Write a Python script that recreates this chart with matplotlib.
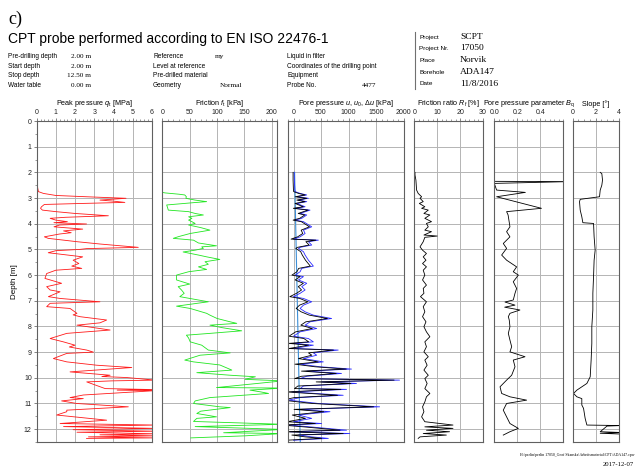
import numpy as np
import matplotlib
matplotlib.use('Agg')
import matplotlib.pyplot as plt
from matplotlib.ticker import MultipleLocator

plt.rcParams['font.family'] = ['Liberation Sans', 'DejaVu Sans']
plt.rcParams['mathtext.fontset'] = 'custom'
plt.rcParams['mathtext.rm'] = 'Liberation Sans'
plt.rcParams['mathtext.it'] = 'Liberation Sans:italic'

# peak pressure q_t [MPa]
qc_depth = [2.00, 2.30, 2.60, 2.75, 2.82, 2.90, 2.95, 3.01, 3.08, 3.12, 3.17, 3.21, 3.25, 3.34, 3.40, 3.47,
            3.53, 3.60, 3.69, 3.75, 3.79, 3.86, 3.92, 3.96, 4.01, 4.05, 4.12, 4.21, 4.28, 4.35, 4.40, 4.51,
            4.57, 4.70, 4.79, 4.92, 4.97, 5.00, 5.05, 5.13, 5.29, 5.42, 5.55, 5.65, 5.74, 5.81, 5.94, 6.13,
            6.32, 6.45, 6.58, 6.65, 6.84, 6.91, 7.04, 7.10, 7.23, 7.30, 7.49, 7.55, 7.62, 7.75, 7.86, 7.95,
            8.14, 8.21, 8.27, 8.47, 8.60, 8.73, 8.80, 8.92, 9.00, 9.05, 9.25, 9.38, 9.51, 9.60, 9.77, 9.90,
            9.95, 9.99, 10.09, 10.12, 10.16, 10.42, 10.46, 10.48, 10.50, 10.67, 10.77, 10.81, 10.90, 11.00,
            11.13, 11.26, 11.32, 11.45, 11.65, 11.78, 11.84, 11.90, 11.97, 12.02, 12.08, 12.12, 12.18, 12.22,
            12.26, 12.30, 12.34, 12.36]
qc_value = [0.00, 0.02, 0.05, 0.09, 0.35, 1.00, 2.60, 4.66, 3.30, 4.00, 4.60, 2.40, 0.40, 0.25, 0.20, 0.30,
            1.00, 2.00, 3.74, 1.50, 0.70, 1.00, 1.60, 0.90, 2.60, 1.20, 0.90, 2.40, 1.40, 1.80, 1.20, 0.40,
            0.60, 2.10, 3.30, 5.30, 2.60, 2.25, 1.00, 0.60, 2.40, 1.90, 2.20, 1.83, 2.35, 1.00, 0.52, 0.43,
            1.30, 0.52, 0.70, 1.22, 0.61, 1.22, 3.30, 0.70, 0.52, 1.74, 2.10, 1.90, 2.26, 3.65, 3.30, 2.10,
            3.83, 2.60, 1.57, 0.70, 1.39, 2.00, 1.70, 2.61, 2.96, 1.57, 0.87, 1.57, 3.13, 4.96, 1.74, 3.83,
            3.40, 4.70, 6.20, 3.90, 2.61, 3.57, 6.20, 4.20, 6.20, 2.43, 1.74, 2.43, 1.30, 2.09,
            4.78, 1.57, 1.57, 1.04, 3.65, 1.22, 6.20, 1.40, 6.20, 1.90, 6.20, 2.10, 6.20, 3.30,
            6.20, 2.70, 6.20, 2.60]

# friction f_t [kPa]
fs_depth = [2.00, 2.78, 2.80, 2.85, 2.88, 2.95, 3.01, 3.08, 3.14, 3.18, 3.27, 3.40, 3.47, 3.53, 3.60, 3.66,
            3.73, 3.79, 3.86, 3.92, 3.99, 4.05, 4.15, 4.25, 4.38, 4.50, 4.57, 4.64, 4.75, 4.86, 4.90, 4.96,
            5.03, 5.10, 5.22, 5.29, 5.39, 5.48, 5.58, 5.68, 5.78, 5.87, 6.00, 6.19, 6.35, 6.45, 6.58, 6.71,
            6.84, 7.04, 7.21, 7.30, 7.49, 7.56, 7.69, 7.82, 7.88, 7.95, 8.05, 8.17, 8.27, 8.34, 8.45, 8.60,
            8.73, 8.92, 9.03, 9.12, 9.31, 9.38, 9.50, 9.70, 9.80, 9.90, 9.96, 10.06, 10.12, 10.38, 10.40,
            10.48, 10.55, 10.61, 10.77, 10.90, 11.00, 11.13, 11.16, 11.30, 11.39, 11.52, 11.58, 11.70, 11.81,
            11.90, 12.01, 12.14, 12.17, 12.26, 12.34]
fs_value = [0, 0, 5, 30, 41, 44, 43, 60, 81, 57, 8, 10, 11, 48, 60, 75,
            48, 54, 48, 54, 60, 48, 70, 87, 51, 30, 20, 57, 66, 99, 72, 75,
            60, 38, 66, 81, 105, 78, 84, 66, 81, 48, 26, 26, 50, 29, 35, 40,
            32, 84, 26, 51, 81, 87, 100, 124, 136, 87, 110, 145, 87, 44, 48, 51,
            72, 84, 124, 69, 41, 57, 105, 127, 63, 124, 170, 151, 220, 99, 220,
            160, 180, 194, 87, 60, 57, 105, 124, 70, 63, 99, 63, 57, 220,
            60, 220, 112, 220, 151, 52]

# pore pressure u [kPa]
u_depth = [2.00, 2.30, 2.69, 2.75, 2.82, 2.88, 2.95, 3.01, 3.08, 3.14, 3.21, 3.34, 3.40, 3.47, 3.60, 3.66,
           3.79, 3.86, 3.92, 4.12, 4.25, 4.38, 4.51, 4.60, 4.64, 4.70, 4.83, 4.92, 4.96, 5.09, 5.22, 5.42,
           5.65, 5.74, 5.87, 6.00, 6.06, 6.19, 6.32, 6.45, 6.58, 6.71, 6.84, 6.91, 7.04, 7.17, 7.30, 7.43,
           7.56, 7.69, 7.82, 7.95, 8.08, 8.21, 8.38, 8.47, 8.60, 8.66, 8.73, 8.86, 8.92, 9.03, 9.12, 9.25,
           9.38, 9.47, 9.57, 9.66, 9.74, 9.83, 9.94, 10.03, 10.09, 10.16, 10.22, 10.32, 10.42, 10.45, 10.55,
           10.68, 10.77, 10.87, 11.00, 11.13, 11.23, 11.32, 11.45, 11.58, 11.71, 11.78, 11.84, 11.91, 12.04,
           12.10, 12.17, 12.23, 12.30, 12.36, 12.43]
u_value = [12, 15, 25, 30, 120, 241, 60, 271, 90, 241, 60, 211, 30, 301, 120, 241,
           150, 30, 181, 331, 181, 211, 120, 0, 452, 271, 331, 120, 90, 181, 211, 271,
           361, 150, 120, 30, 181, 90, 241, 150, 211, 120, 0, 181, 331, 181, 120, 211,
           361, 693, 301, 211, 422, 120, 0, 271, 361, 0, 361, 0, 813, 361, 422, 181,
           542, 120, 482, 1054, 241, 873, 241, 120, 1928, 512, 1145, 181, 120, 964, -30,
           904, 120, -90, 452, 1566, 120, 663, 90, 331, 0, 512, -90, 301, 964,
           -60, 1024, 90, 331, 633, 0]

# friction ratio R_f [%]
rf_depth = [2.00, 2.10, 2.30, 2.69, 2.82, 2.95, 3.01, 3.14, 3.21, 3.34, 3.40, 3.47, 3.60, 3.66, 3.79, 3.92,
            3.99, 4.12, 4.25, 4.31, 4.44, 4.48, 4.53, 4.70, 4.90, 5.03, 5.16, 5.29, 5.42, 5.55, 5.68, 5.81,
            6.00, 6.19, 6.39, 6.52, 6.71, 6.84, 7.04, 7.23, 7.43, 7.62, 7.82, 8.01, 8.21, 8.40, 8.60, 8.79,
            8.99, 9.18, 9.31, 9.51, 9.70, 9.90, 10.03, 10.22, 10.42, 10.61, 10.74, 10.94, 11.13, 11.32, 11.52,
            11.71, 11.84, 11.91, 11.97, 12.04, 12.10, 12.17, 12.23, 12.30, 12.36]
rf_value = [0.3, 0.3, 0.7, 1.0, 1.7, 3.2, 2.5, 3.9, 2.2, 4.6, 3.2, 6.1, 4.2, 6.8, 4.6, 7.5,
            5.3, 6.1, 4.6, 7.5, 4.2, 10.0, 4.6, 3.9, 2.5, 3.6, 5.3, 3.9, 5.1, 3.6, 5.3, 3.9,
            4.6, 3.6, 5.3, 3.9, 4.2, 2.7, 5.3, 3.9, 4.6, 3.6, 5.1, 4.2, 5.3, 6.8, 4.6, 5.3,
            4.2, 6.1, 4.6, 5.6, 4.2, 6.1, 4.6, 5.6, 4.6, 6.8, 5.3, 4.6, 3.6, 4.2, 3.2,
            4.6, 16.9, 4.6, 16.9, 5.3, 15.4, 3.9, 14.0, 2.5, 1.7]

# pore pressure parameter B_q [-]
bq_depth = [2.35, 2.36, 2.43, 2.69, 2.78, 2.95, 3.40, 3.53, 3.66, 4.12, 4.31, 4.51, 4.77, 4.96, 5.22, 5.42,
            5.68, 5.87, 6.00, 6.26, 6.52, 6.71, 6.97, 7.05, 7.17, 7.25, 7.36, 7.49, 7.62, 7.75, 8.01, 8.27,
            8.53, 8.79, 8.99, 9.18, 9.31, 9.57, 9.90, 10.09, 10.35, 10.61, 10.74, 10.87, 11.00, 11.26, 11.52,
            11.78, 11.97, 12.10, 12.23]
bq_value = [0.00, 0.65, 0.00, 0.02, 0.27, 0.02, 0.41, 0.107, 0.12, 0.136, 0.107, 0.136, 0.078, 0.107, 0.064, 0.107,
            0.194, 0.165, 0.209, 0.165, 0.194, 0.18, 0.165, 0.093, 0.18, 0.09, 0.223, 0.136, 0.122, 0.130, 0.136, 0.122,
            0.136, 0.151, 0.136, 0.267, 0.165, 0.18, 0.151, 0.107, 0.05, 0.064, 0.136, 0.281, 0.107, 0.078, 0.107,
            0.136, 0.209, 0.136, 0.078]

# slope [deg]
sl_depth = [2.00, 2.05, 2.30, 2.50, 2.69, 2.95, 3.05, 3.14, 3.47, 3.73, 3.96, 3.99, 4.51, 5.03, 5.42, 6.06,
            6.71, 7.36, 8.01, 8.66, 9.31, 9.96, 10.22, 10.48, 10.61, 10.74, 10.81, 11.06, 11.19, 11.58, 11.84,
            11.86, 11.88, 12.10, 12.13, 12.16, 12.19]
sl_value = [2.41, 2.55, 2.61, 2.55, 2.41, 2.35, 0.67, 0.61, 0.67, 0.81, 0.90, 1.83, 1.88, 1.97, 1.88, 1.83,
            1.77, 1.77, 1.68, 1.68, 1.62, 1.54, 1.25, 0.38, 0.09, 0.38, 0.81, 0.81, 0.96, 1.10, 1.25,
            4.2, 3.0, 2.41, 4.2, 2.41, 4.2]

gamma_w = 9.81
u0_depth = np.array([2.0, 12.5])
u0_value = gamma_w * u0_depth
du_value = np.array(u_value) - gamma_w * np.array(u_depth)

fig = plt.figure(figsize=(6.35, 4.69), dpi=100)

W, H = 635.0, 469.0
top, bottom = 121.0, 442.0
panels = [(36.7, 151.7), (162.3, 277.3), (288.0, 403.5), (414.3, 483.0), (494.3, 563.3), (572.5, 618.5)]
axes = []
for x0, x1 in panels:
    ax = fig.add_axes([x0 / W, 1 - bottom / H, (x1 - x0) / W, (bottom - top) / H])
    axes.append(ax)

titles = ['Peak pressure $q_\\mathrm{t}$ [MPa]', 'Friction $f_\\mathrm{t}$ [kPa]',
          'Pore pressure $u$, $u_\\mathrm{0}$, $\\Delta u$ [kPa]', 'Friction ratio $R_\\mathrm{f}$ [%]',
          'Pore pressure parameter $B_\\mathrm{q}$', 'Slope [°]']
xlims = [(0, 6), (0, 210), (-100, 2000), (0, 30), (0, 0.6), (0, 4)]
xticks = [[0, 1, 2, 3, 4, 5, 6], [0, 50, 100, 150, 200], [0, 500, 1000, 1500, 2000],
          [0, 10, 20, 30], [0.0, 0.2, 0.4], [0, 2, 4]]
tick_labels = [None, None, None, None, ['0.0', '0.2', '0.4'], None]
minors = [0.2, 10, 100, 2, 0.04, 0.5]

for i, ax in enumerate(axes):
    ax.set_xlim(xlims[i])
    ax.set_ylim(12.5, 0)
    ax.xaxis.tick_top()
    ax.set_xticks(xticks[i])
    if tick_labels[i]:
        ax.set_xticklabels(tick_labels[i])
    ax.xaxis.set_minor_locator(MultipleLocator(minors[i]))
    ax.set_yticks(range(13))
    ax.grid(True, which='major', color='#b4b4b4', lw=0.7)
    ax.tick_params(axis='x', which='major', labelsize=5, length=2.5, width=0.5, pad=1, colors='#505050',
                   labelcolor='#222222')
    ax.tick_params(axis='x', which='minor', length=1.3, width=0.4, colors='#505050')
    if i == 0:
        ax.yaxis.set_minor_locator(MultipleLocator(0.5))
        ax.tick_params(axis='y', which='major', labelsize=5, length=2.5, width=0.5, pad=1, colors='#505050',
                       labelcolor='#222222')
        ax.tick_params(axis='y', which='minor', length=1.3, width=0.4, colors='#505050')
        ax.set_ylabel('Depth [m]', fontsize=5.8, labelpad=4)
    else:
        ax.tick_params(axis='y', which='both', length=0, labelleft=False)
    for sp in ax.spines.values():
        sp.set_color('#606060')
        sp.set_linewidth(0.8)
    ax.set_title(titles[i], fontsize=5.2, pad=2.5)

axes[0].plot(qc_value, qc_depth, color='#ff1a1a', lw=0.6)
axes[1].plot(fs_value, fs_depth, color='#22e622', lw=0.6)
axes[2].plot(u0_value, u0_depth, color='#3d8fd6', lw=0.8)
axes[2].plot(u_value, u_depth, color='#2a2aff', lw=0.6)
axes[2].plot(du_value, u_depth, color='black', lw=0.6)
axes[3].plot(rf_value, rf_depth, color='black', lw=0.6)
axes[4].plot(bq_value, bq_depth, color='black', lw=0.6)
axes[5].plot(sl_value, sl_depth, color='black', lw=0.6)


def fy(y):
    return 1 - y / H


fig.text(8 / W, fy(19), 'c)', fontsize=13, family='Liberation Serif', va='center')
fig.text(8 / W, fy(39), 'CPT probe performed according to EN ISO 22476-1', fontsize=10, va='center')

rows = [56.5, 66, 75.5, 85.5]
col1 = ['Pre-drilling depth', 'Start depth', 'Stop depth', 'Water table']
col1_val = ['2.00 m', '2.00 m', '12.50 m', '0.00 m']
col2 = ['Reference', 'Level at reference', 'Pre-drilled material', 'Geometry']
col2_val = ['my', '', '', 'Normal']
col3 = ['Liquid in filter', 'Coordinates of the drilling point', 'Equipment', 'Probe No.']
col3_val = ['', '', '', '4477']
for k, y in enumerate(rows):
    fig.text(8 / W, fy(y), col1[k], fontsize=4.7, va='center')
    fig.text(91 / W, fy(y), col1_val[k], fontsize=5.2, family='Liberation Serif', va='center', ha='right')
    fig.text(153 / W, fy(y), col2[k], fontsize=4.7, va='center')
    fig.text(215 / W if k == 0 else 220 / W, fy(y), col2_val[k], fontsize=5.2, family='Liberation Serif',
             va='center')
    fig.text(287 / W, fy(y), col3[k], fontsize=4.7, va='center')
    fig.text(362 / W, fy(y), col3_val[k], fontsize=5.2, family='Liberation Serif', va='center')

proj_rows = [37, 48.5, 60.5, 72, 83.5]
proj_lab = ['Project', 'Project Nr.', 'Place', 'Borehole', 'Date']
proj_val = ['SCPT', '17050', 'Norvik', 'ADA147', '11/8/2016']
fig.add_artist(plt.Line2D([415 / W, 415 / W], [fy(32), fy(89)], color='#707070', lw=0.8))
for k, y in enumerate(proj_rows):
    fig.text(419 / W, fy(y), proj_lab[k], fontsize=4.6, va='center')
    fig.text(460 / W, fy(y), proj_val[k], fontsize=6.8, family='Liberation Serif', va='center')

fig.text(634 / W, fy(455), 'H:\\perlin\\perlin 17050_Geof Skanska\\Arbeitsmaterial\\CPT\\ADA147.cpw',
         fontsize=2.8, family='Liberation Serif', ha='right', va='center')
fig.text(634 / W, fy(464), '2017-12-07', fontsize=4.8, family='Liberation Serif', ha='right', va='center')

fig.savefig('out.png', dpi=100)
